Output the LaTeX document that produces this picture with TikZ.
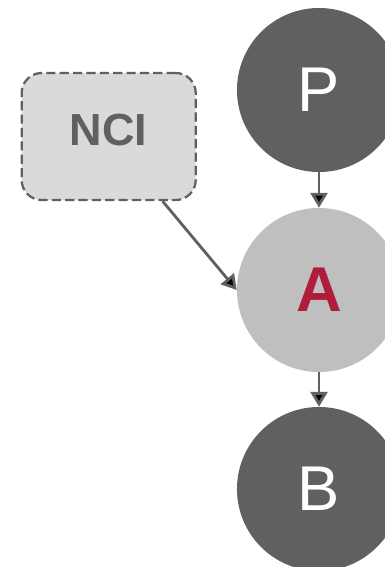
\documentclass[tikz,border=0pt]{standalone}
\usepackage{fontspec}
\setmainfont{Liberation Sans}
\usetikzlibrary{arrows.meta, positioning}

\definecolor{darkgrey}{HTML}{5F6062}
\definecolor{lightgrey}{HTML}{BFBFBF}
\definecolor{boxgrey}{HTML}{DADADA}
\definecolor{crimson}{HTML}{B01C3C}

\begin{document}
\begin{tikzpicture}[x=0.025cm, y=-0.025cm,
    var/.style = {circle, minimum size=4.1cm, inner sep=0pt, fill=darkgrey,
      text=white, font=\fontsize{45}{45}\selectfont},
    cause/.style = {rectangle, rounded corners=0.5cm, minimum width=4.35cm,
      minimum height=3.175cm, fill=boxgrey, draw=darkgrey, line width=1.6pt,
      dash pattern=on 6.5pt off 3pt, text=darkgrey,
      font=\fontsize{32}{32}\selectfont\bfseries},
    link/.style = {-{Triangle[length=10.5pt, width=12pt]}, draw=darkgrey,
      line width=2pt}]
    \useasboundingbox (0,0) rectangle (384,567);

    \node (p) [var] at (319,90) {P};
    \node (a) [var, fill=lightgrey, text=crimson,
      font=\fontsize{45}{45}\selectfont\bfseries] at (319,290) {A};
    \node (b) [var] at (319,489) {B};
    \node (nci) [cause, text depth=0.35cm] at (108.7,136.5) {NCI};

    \path [link]
      (p) edge (a)
      (a) edge (b)
      (nci) edge (a.west);
\end{tikzpicture}
\end{document}
